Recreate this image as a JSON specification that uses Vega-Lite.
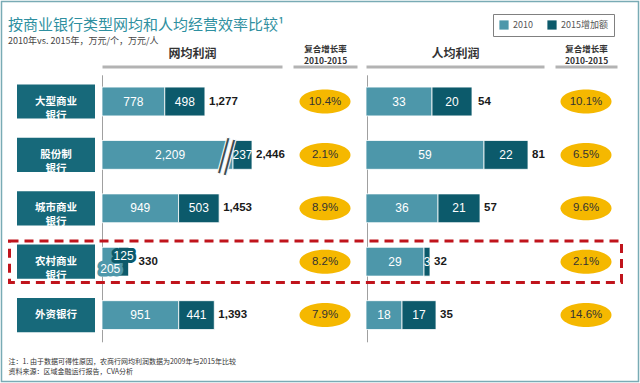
{
  "$schema": "https://vega.github.io/schema/vega-lite/v6.json",
  "width": 640,
  "height": 383,
  "autosize": {"type": "none"},
  "padding": 0,
  "background": "white",
  "title": {
    "text": "按商业银行类型网均和人均经营效率比较¹",
    "subtitle": "2010年vs. 2015年，万元/个，万元/人",
    "anchor": "start",
    "frame": "group",
    "offset": -46,
    "dx": 8,
    "font": "Noto Sans CJK SC",
    "fontSize": 15,
    "fontWeight": "normal",
    "color": "#2e8fa0",
    "subtitleFont": "Noto Sans CJK SC",
    "subtitleFontSize": 9,
    "subtitleColor": "#444444",
    "subtitlePadding": 4
  },
  "datasets": {
    "bars": [
      {"bank": "大型商业银行", "metric": "网均利润", "series": "2010", "value": 778},
      {"bank": "大型商业银行", "metric": "网均利润", "series": "2015增加额", "value": 498},
      {"bank": "股份制银行", "metric": "网均利润", "series": "2010", "value": 2209},
      {"bank": "股份制银行", "metric": "网均利润", "series": "2015增加额", "value": 237},
      {"bank": "城市商业银行", "metric": "网均利润", "series": "2010", "value": 949},
      {"bank": "城市商业银行", "metric": "网均利润", "series": "2015增加额", "value": 503},
      {"bank": "农村商业银行", "metric": "网均利润", "series": "2010", "value": 205},
      {"bank": "农村商业银行", "metric": "网均利润", "series": "2015增加额", "value": 125},
      {"bank": "外资银行", "metric": "网均利润", "series": "2010", "value": 951},
      {"bank": "外资银行", "metric": "网均利润", "series": "2015增加额", "value": 441},
      {"bank": "大型商业银行", "metric": "人均利润", "series": "2010", "value": 33},
      {"bank": "大型商业银行", "metric": "人均利润", "series": "2015增加额", "value": 20},
      {"bank": "股份制银行", "metric": "人均利润", "series": "2010", "value": 59},
      {"bank": "股份制银行", "metric": "人均利润", "series": "2015增加额", "value": 22},
      {"bank": "城市商业银行", "metric": "人均利润", "series": "2010", "value": 36},
      {"bank": "城市商业银行", "metric": "人均利润", "series": "2015增加额", "value": 21},
      {"bank": "农村商业银行", "metric": "人均利润", "series": "2010", "value": 29},
      {"bank": "农村商业银行", "metric": "人均利润", "series": "2015增加额", "value": 3},
      {"bank": "外资银行", "metric": "人均利润", "series": "2010", "value": 18},
      {"bank": "外资银行", "metric": "人均利润", "series": "2015增加额", "value": 17}
    ],
    "totals": [
      {"bank": "大型商业银行", "metric": "网均利润", "total": 1277},
      {"bank": "股份制银行", "metric": "网均利润", "total": 2446},
      {"bank": "城市商业银行", "metric": "网均利润", "total": 1453},
      {"bank": "农村商业银行", "metric": "网均利润", "total": 330},
      {"bank": "外资银行", "metric": "网均利润", "total": 1393},
      {"bank": "大型商业银行", "metric": "人均利润", "total": 54},
      {"bank": "股份制银行", "metric": "人均利润", "total": 81},
      {"bank": "城市商业银行", "metric": "人均利润", "total": 57},
      {"bank": "农村商业银行", "metric": "人均利润", "total": 32},
      {"bank": "外资银行", "metric": "人均利润", "total": 35}
    ],
    "cagr": [
      {"bank": "大型商业银行", "metric": "网均利润", "cagr": 0.104},
      {"bank": "股份制银行", "metric": "网均利润", "cagr": 0.021},
      {"bank": "城市商业银行", "metric": "网均利润", "cagr": 0.089},
      {"bank": "农村商业银行", "metric": "网均利润", "cagr": 0.082},
      {"bank": "外资银行", "metric": "网均利润", "cagr": 0.079},
      {"bank": "大型商业银行", "metric": "人均利润", "cagr": 0.101},
      {"bank": "股份制银行", "metric": "人均利润", "cagr": 0.065},
      {"bank": "城市商业银行", "metric": "人均利润", "cagr": 0.096},
      {"bank": "农村商业银行", "metric": "人均利润", "cagr": 0.021},
      {"bank": "外资银行", "metric": "人均利润", "cagr": 0.146}
    ],
    "banks": [
      {"bank": "大型商业银行", "label": "大型商业\n银行"},
      {"bank": "股份制银行", "label": "股份制\n银行"},
      {"bank": "城市商业银行", "label": "城市商业\n银行"},
      {"bank": "农村商业银行", "label": "农村商业\n银行"},
      {"bank": "外资银行", "label": "外资银行"}
    ]
  },
  "layer": [
    {
      "data": {"values": [{"k": 1}]},
      "mark": {"type": "rect", "fillOpacity": 0, "fill": "white", "stroke": "#79abb5", "strokeWidth": 1.5},
      "encoding": {
        "x": {"datum": 0, "type": "quantitative", "scale": {"domain": [0, 1], "range": [1.5, 638.5], "nice": false, "zero": false},
          "axis": {"orient": "bottom", "offset": -27, "domain": false, "ticks": false, "labels": false, "grid": false,
            "title": ["注：1. 由于数据可得性原因，农商行网均利润数据为2009年与2015年比较", "资料来源：区域金融运行报告，CVA分析"],
            "titleFont": "Noto Sans CJK SC", "titleFontSize": 7, "titleFontWeight": "normal", "titleColor": "#333333",
            "titleLineHeight": 10, "titleAnchor": "start", "titleAlign": "left", "titleBaseline": "top", "titleX": 8, "titleY": 1}},
        "x2": {"datum": 1},
        "y": {"datum": 0, "type": "quantitative", "scale": {"domain": [0, 1], "range": [1.5, 381.5], "nice": false, "zero": false}, "axis": null},
        "y2": {"datum": 1}
      }
    },
    {
      "data": {"name": "banks"},
      "layer": [
        {
          "mark": {"type": "bar", "height": {"band": 0.64}, "color": "#17697a"},
          "encoding": {
            "y": {"field": "bank", "type": "nominal", "scale": {"type": "band", "domain": ["大型商业银行", "股份制银行", "城市商业银行", "农村商业银行", "外资银行"], "range": [74.8, 341.8], "paddingInner": 0, "paddingOuter": 0}, "axis": null},
            "x": {"datum": 0, "type": "quantitative", "scale": {"domain": [0, 1], "range": [17, 95], "nice": false, "zero": false}, "axis": null},
            "x2": {"datum": 1}
          }
        },
        {
          "mark": {"type": "text", "color": "white", "font": "Noto Sans CJK SC", "fontSize": 10.5, "fontWeight": "bold", "lineBreak": "\n", "lineHeight": 14},
          "encoding": {
            "y": {"field": "bank", "type": "nominal"},
            "x": {"datum": 0.5, "type": "quantitative"},
            "text": {"field": "label"}
          }
        }
      ]
    },
    {
      "data": {"name": "banks"},
      "transform": [{"filter": "datum.bank === '农村商业银行'"}],
      "mark": {"type": "bar", "height": {"band": 0.775}, "fill": "white", "fillOpacity": 0, "stroke": "#c0141c", "strokeWidth": 3, "strokeDash": [9, 6]},
      "encoding": {
        "y": {"field": "bank", "type": "nominal", "scale": {"type": "band", "domain": ["大型商业银行", "股份制银行", "城市商业银行", "农村商业银行", "外资银行"], "range": [74.8, 341.8], "paddingInner": 0, "paddingOuter": 0}, "axis": null},
        "x": {"datum": 0, "type": "quantitative", "scale": {"domain": [0, 1], "range": [9.5, 621.5], "nice": false, "zero": false}, "axis": null},
        "x2": {"datum": 1}
      }
    },
    {
      "data": {"name": "bars"},
      "transform": [{"filter": "datum.metric === '网均利润'"}],
      "layer": [
        {
          "mark": {"type": "bar", "height": {"band": 0.54}, "stroke": "white", "strokeWidth": 0.8},
          "encoding": {
            "y": {"field": "bank", "type": "nominal", "scale": {"type": "band", "domain": ["大型商业银行", "股份制银行", "城市商业银行", "农村商业银行", "外资银行"], "range": [74.8, 341.8], "paddingInner": 0, "paddingOuter": 0},
              "axis": {"orient": "left", "offset": -102, "domain": true, "domainColor": "#a0a0a0", "domainWidth": 1, "ticks": false, "labels": false, "grid": false, "title": null}},
            "x": {"field": "value", "type": "quantitative", "stack": "zero",
              "scale": {"type": "linear", "domain": [0, 1500, 2209, 2820], "range": [102, 223, 233, 282], "nice": false, "zero": false},
              "axis": {"orient": "top", "offset": -66.5, "domain": true, "domainColor": "#b3b3b3", "domainWidth": 3, "ticks": false, "labels": false, "grid": false,
                "title": "网均利润", "titleFont": "Noto Sans CJK SC", "titleFontSize": 12, "titleFontWeight": "bold", "titleColor": "#333333", "titlePadding": 6}},
            "color": {"field": "series", "type": "nominal", "scale": {"domain": ["2010", "2015增加额"], "range": ["#4d97aa", "#0c5a6b"]},
              "legend": {"orient": "none", "legendX": 493, "legendY": 14, "direction": "horizontal", "title": null, "symbolType": "square", "symbolSize": 85, "symbolStrokeWidth": 0,
                "labelFont": "Noto Sans CJK SC", "labelFontSize": 9, "labelColor": "#555555", "strokeColor": "#808080", "fillColor": "white", "padding": 6, "columnPadding": 14, "labelOffset": 4}},
            "order": {"field": "series", "sort": "ascending"}
          }
        },
        {
          "mark": {"type": "text", "color": "white", "font": "Liberation Sans", "fontSize": 12},
          "encoding": {
            "y": {"field": "bank", "type": "nominal"},
            "x": {"field": "value", "type": "quantitative", "stack": "zero", "bandPosition": 0.5},
            "detail": {"field": "series"},
            "order": {"field": "series", "sort": "ascending"},
            "text": {"condition": {"test": "datum.bank === '农村商业银行' || (datum.bank === '股份制银行' && datum.series === '2010')", "value": ""}, "field": "value", "type": "quantitative", "format": ","}
          }
        },
        {
          "mark": {"type": "text", "color": "white", "font": "Liberation Sans", "fontSize": 12, "dx": -21},
          "encoding": {
            "y": {"field": "bank", "type": "nominal"},
            "x": {"field": "value", "type": "quantitative", "stack": "zero", "bandPosition": 0.5},
            "detail": {"field": "series"},
            "order": {"field": "series", "sort": "ascending"},
            "text": {"condition": {"test": "!(datum.bank === '股份制银行' && datum.series === '2010')", "value": ""}, "field": "value", "type": "quantitative", "format": ","}
          }
        },
        {
          "mark": {"type": "text", "color": "#4d97aa", "stroke": "#4d97aa", "strokeWidth": 7, "strokeJoin": "round", "font": "Liberation Sans", "fontSize": 12, "dy": 7},
          "encoding": {
            "y": {"field": "bank", "type": "nominal"},
            "x": {"field": "value", "type": "quantitative", "stack": "zero", "bandPosition": 0.5},
            "detail": {"field": "series"},
            "order": {"field": "series", "sort": "ascending"},
            "text": {"condition": {"test": "!(datum.bank === '农村商业银行' && datum.series === '2010')", "value": ""}, "field": "value", "type": "quantitative", "format": ","}
          }
        },
        {
          "mark": {"type": "text", "color": "#0c5a6b", "stroke": "#0c5a6b", "strokeWidth": 6, "strokeJoin": "round", "font": "Liberation Sans", "fontSize": 12, "dy": -6},
          "encoding": {
            "y": {"field": "bank", "type": "nominal"},
            "x": {"field": "value", "type": "quantitative", "stack": "zero", "bandPosition": 0.5},
            "detail": {"field": "series"},
            "order": {"field": "series", "sort": "ascending"},
            "text": {"condition": {"test": "!(datum.bank === '农村商业银行' && datum.series === '2015增加额')", "value": ""}, "field": "value", "type": "quantitative", "format": ","}
          }
        },
        {
          "mark": {"type": "text", "color": "white", "font": "Liberation Sans", "fontSize": 12, "dy": 7},
          "encoding": {
            "y": {"field": "bank", "type": "nominal"},
            "x": {"field": "value", "type": "quantitative", "stack": "zero", "bandPosition": 0.5},
            "detail": {"field": "series"},
            "order": {"field": "series", "sort": "ascending"},
            "text": {"condition": {"test": "!(datum.bank === '农村商业银行' && datum.series === '2010')", "value": ""}, "field": "value", "type": "quantitative", "format": ","}
          }
        },
        {
          "mark": {"type": "text", "color": "white", "font": "Liberation Sans", "fontSize": 12, "dy": -6},
          "encoding": {
            "y": {"field": "bank", "type": "nominal"},
            "x": {"field": "value", "type": "quantitative", "stack": "zero", "bandPosition": 0.5},
            "detail": {"field": "series"},
            "order": {"field": "series", "sort": "ascending"},
            "text": {"condition": {"test": "!(datum.bank === '农村商业银行' && datum.series === '2015增加额')", "value": ""}, "field": "value", "type": "quantitative", "format": ","}
          }
        },
        {
          "data": {"name": "totals"},
          "transform": [{"filter": "datum.metric === '网均利润'"}],
          "mark": {"type": "text", "align": "left", "dx": 4, "font": "Liberation Sans", "fontSize": 11.5, "fontWeight": "bold", "color": "#1a1a1a"},
          "encoding": {
            "y": {"field": "bank", "type": "nominal"},
            "x": {"field": "total", "type": "quantitative"},
            "text": {"condition": {"test": "datum.bank === '农村商业银行'", "value": ""}, "field": "total", "type": "quantitative", "format": ","}
          }
        },
        {
          "data": {"name": "totals"},
          "transform": [{"filter": "datum.metric === '网均利润'"}],
          "mark": {"type": "text", "align": "left", "dx": 10, "font": "Liberation Sans", "fontSize": 11.5, "fontWeight": "bold", "color": "#1a1a1a"},
          "encoding": {
            "y": {"field": "bank", "type": "nominal"},
            "x": {"field": "total", "type": "quantitative"},
            "text": {"condition": {"test": "datum.bank !== '农村商业银行'", "value": ""}, "field": "total", "type": "quantitative", "format": ","}
          }
        },
        {
          "data": {"name": "totals"},
          "transform": [{"filter": "datum.metric === '网均利润' && datum.bank === '股份制银行'"}],
          "mark": {"type": "text", "text": "|", "font": "Liberation Sans", "fontSize": 40, "angle": 15, "color": "white", "stroke": "white", "strokeWidth": 5},
          "encoding": {
            "y": {"field": "bank", "type": "nominal"},
            "x": {"datum": 1785, "type": "quantitative"}
          }
        },
        {
          "data": {"name": "totals"},
          "transform": [{"filter": "datum.metric === '网均利润' && datum.bank === '股份制银行'"}],
          "mark": {"type": "text", "text": "|", "font": "Liberation Sans", "fontSize": 40, "angle": 15, "dx": -3, "color": "#3d4a4f", "stroke": "white", "strokeWidth": 1},
          "encoding": {
            "y": {"field": "bank", "type": "nominal"},
            "x": {"datum": 1785, "type": "quantitative"}
          }
        },
        {
          "data": {"name": "totals"},
          "transform": [{"filter": "datum.metric === '网均利润' && datum.bank === '股份制银行'"}],
          "mark": {"type": "text", "text": "|", "font": "Liberation Sans", "fontSize": 40, "angle": 15, "dx": 3, "color": "#3d4a4f", "stroke": "white", "strokeWidth": 1},
          "encoding": {
            "y": {"field": "bank", "type": "nominal"},
            "x": {"datum": 1785, "type": "quantitative"}
          }
        }
      ]
    },
    {
      "data": {"name": "bars"},
      "transform": [{"filter": "datum.metric === '人均利润'"}],
      "layer": [
        {
          "mark": {"type": "bar", "height": {"band": 0.54}, "stroke": "white", "strokeWidth": 0.8},
          "encoding": {
            "y": {"field": "bank", "type": "nominal", "scale": {"type": "band", "domain": ["大型商业银行", "股份制银行", "城市商业银行", "农村商业银行", "外资银行"], "range": [74.8, 341.8], "paddingInner": 0, "paddingOuter": 0},
              "axis": {"orient": "left", "offset": -367, "domain": true, "domainColor": "#a0a0a0", "domainWidth": 1, "ticks": false, "labels": false, "grid": false, "title": null}},
            "x": {"field": "value", "type": "quantitative", "stack": "zero",
              "scale": {"type": "linear", "domain": [0, 89], "range": [366, 544], "nice": false, "zero": false},
              "axis": {"orient": "top", "offset": -66.5, "domain": true, "domainColor": "#b3b3b3", "domainWidth": 3, "ticks": false, "labels": false, "grid": false,
                "title": "人均利润", "titleFont": "Noto Sans CJK SC", "titleFontSize": 12, "titleFontWeight": "bold", "titleColor": "#333333", "titlePadding": 6}},
            "color": {"field": "series", "type": "nominal", "scale": {"domain": ["2010", "2015增加额"], "range": ["#4d97aa", "#0c5a6b"]}, "legend": null},
            "order": {"field": "series", "sort": "ascending"}
          }
        },
        {
          "mark": {"type": "text", "color": "white", "font": "Liberation Sans", "fontSize": 12},
          "encoding": {
            "y": {"field": "bank", "type": "nominal"},
            "x": {"field": "value", "type": "quantitative", "stack": "zero", "bandPosition": 0.5},
            "detail": {"field": "series"},
            "order": {"field": "series", "sort": "ascending"},
            "text": {"field": "value", "type": "quantitative", "format": ","}
          }
        },
        {
          "data": {"name": "totals"},
          "transform": [{"filter": "datum.metric === '人均利润'"}],
          "mark": {"type": "text", "align": "left", "dx": 4, "font": "Liberation Sans", "fontSize": 11.5, "fontWeight": "bold", "color": "#1a1a1a"},
          "encoding": {
            "y": {"field": "bank", "type": "nominal"},
            "x": {"field": "total", "type": "quantitative"},
            "text": {"field": "total", "type": "quantitative", "format": ","}
          }
        }
      ]
    },
    {
      "data": {"name": "cagr"},
      "transform": [{"filter": "datum.metric === '网均利润'"}],
      "layer": [
        {
          "mark": {"type": "point", "shape": "M-1,0A1,0.47,0,1,1,1,0A1,0.47,0,1,1,-1,0Z", "size": 2601, "filled": true, "color": "#f5b800", "opacity": 1, "strokeWidth": 0},
          "encoding": {
            "y": {"field": "bank", "type": "nominal", "scale": {"type": "band", "domain": ["大型商业银行", "股份制银行", "城市商业银行", "农村商业银行", "外资银行"], "range": [74.8, 341.8], "paddingInner": 0, "paddingOuter": 0}, "axis": null},
            "x": {"field": "metric", "type": "nominal", "scale": {"type": "band", "domain": ["网均利润"], "range": [293, 357], "paddingInner": 0, "paddingOuter": 0},
              "axis": {"orient": "top", "offset": -66.5, "domain": true, "domainColor": "#b3b3b3", "domainWidth": 3, "ticks": false, "labels": false, "grid": false,
                "title": ["复合增长率", "2010-2015"], "titleFont": "Noto Sans CJK SC", "titleFontSize": 8.5, "titleFontWeight": "bold", "titleColor": "#333333", "titleLineHeight": 12, "titlePadding": 1}}
          }
        },
        {
          "mark": {"type": "text", "font": "Liberation Sans", "fontSize": 11.5, "color": "#333333"},
          "encoding": {
            "y": {"field": "bank", "type": "nominal"},
            "x": {"field": "metric", "type": "nominal"},
            "text": {"field": "cagr", "type": "quantitative", "format": ".1%"}
          }
        }
      ]
    },
    {
      "data": {"name": "cagr"},
      "transform": [{"filter": "datum.metric === '人均利润'"}],
      "layer": [
        {
          "mark": {"type": "point", "shape": "M-1,0A1,0.47,0,1,1,1,0A1,0.47,0,1,1,-1,0Z", "size": 2601, "filled": true, "color": "#f5b800", "opacity": 1, "strokeWidth": 0},
          "encoding": {
            "y": {"field": "bank", "type": "nominal", "scale": {"type": "band", "domain": ["大型商业银行", "股份制银行", "城市商业银行", "农村商业银行", "外资银行"], "range": [74.8, 341.8], "paddingInner": 0, "paddingOuter": 0}, "axis": null},
            "x": {"field": "metric", "type": "nominal", "scale": {"type": "band", "domain": ["人均利润"], "range": [555, 617], "paddingInner": 0, "paddingOuter": 0},
              "axis": {"orient": "top", "offset": -66.5, "domain": true, "domainColor": "#b3b3b3", "domainWidth": 3, "ticks": false, "labels": false, "grid": false,
                "title": ["复合增长率", "2010-2015"], "titleFont": "Noto Sans CJK SC", "titleFontSize": 8.5, "titleFontWeight": "bold", "titleColor": "#333333", "titleLineHeight": 12, "titlePadding": 1}}
          }
        },
        {
          "mark": {"type": "text", "font": "Liberation Sans", "fontSize": 11.5, "color": "#333333"},
          "encoding": {
            "y": {"field": "bank", "type": "nominal"},
            "x": {"field": "metric", "type": "nominal"},
            "text": {"field": "cagr", "type": "quantitative", "format": ".1%"}
          }
        }
      ]
    }
  ],
  "resolve": {
    "scale": {"x": "independent", "y": "independent"},
    "axis": {"x": "independent", "y": "independent"}
  },
  "config": {
    "view": {"stroke": null},
    "font": "Liberation Sans",
    "axis": {"grid": false, "ticks": false, "labels": false, "domain": false}
  }
}
